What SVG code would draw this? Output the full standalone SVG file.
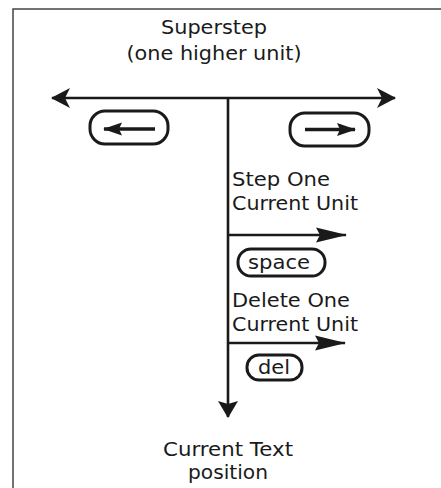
<svg xmlns="http://www.w3.org/2000/svg" width="441" height="488" viewBox="0 0 441 488">
<style>
.t{font-family:"DejaVu Sans","Liberation Sans",sans-serif;font-size:20px;fill:#1a1a1a}
.s{font-size:19px}
.k{fill:none;stroke:#1a1a1a;stroke-width:3}
.ln{stroke:#1a1a1a;stroke-width:2.6;fill:none}
.ka{stroke:#1a1a1a;stroke-width:3.5;fill:none}
.frame{stroke:#444;stroke-width:1.5;fill:none}
</style>
<defs>
<marker id="big" markerUnits="userSpaceOnUse" markerWidth="24" markerHeight="24" viewBox="-2 -12 24 24" refX="18" refY="0" orient="auto-start-reverse">
<path d="M0,-10 L19,0 L0,10 L5,0 z" fill="#1a1a1a"/>
</marker>
<marker id="long" markerUnits="userSpaceOnUse" markerWidth="34" markerHeight="20" viewBox="-2 -10 34 20" refX="30" refY="0" orient="auto">
<path d="M0,-7.5 L31,0 L0,7.5 L4,0 z" fill="#1a1a1a"/>
</marker>
<marker id="down" markerUnits="userSpaceOnUse" markerWidth="22" markerHeight="26" viewBox="-2 -12 22 24" refX="16" refY="0" orient="auto">
<path d="M0,-10 L17,0 L0,10 L3,0 z" fill="#1a1a1a"/>
</marker>
<marker id="small" markerUnits="userSpaceOnUse" markerWidth="22" markerHeight="16" viewBox="-2 -8 22 16" refX="18" refY="0" orient="auto">
<path d="M0,-6.5 L19,0 L0,6.5 L3,0 z" fill="#1a1a1a"/>
</marker>
</defs>
<rect width="441" height="488" fill="#fff"/>
<path class="frame" d="M13,488 L13,9 L441,9"/>

<g id="title">
<text class="t" x="214" y="34" text-anchor="middle" textLength="106" lengthAdjust="spacingAndGlyphs">Superstep</text>
<text class="t" x="214" y="60" text-anchor="middle" textLength="175" lengthAdjust="spacingAndGlyphs">(one higher unit)</text>
</g>

<g id="connectors">
<line class="ln" x1="52" y1="98" x2="395" y2="98" marker-start="url(#big)" marker-end="url(#big)"/>
<line class="ln" x1="228" y1="98" x2="228" y2="417" marker-end="url(#down)"/>
<line class="ln" x1="228" y1="235" x2="346" y2="235" marker-end="url(#long)"/>
<line class="ln" x1="228" y1="343" x2="345" y2="343" marker-end="url(#long)"/>
</g>

<g id="key-left">
<rect class="k" x="90" y="111" width="78" height="33" rx="15"/>
<line class="ka" x1="155" y1="129" x2="104" y2="129" marker-end="url(#small)"/>
</g>

<g id="key-right">
<rect class="k" x="290" y="113" width="79" height="33" rx="15"/>
<line class="ka" x1="305" y1="129.5" x2="355" y2="129.5" marker-end="url(#small)"/>
</g>

<g id="step-label">
<text class="t" x="232" y="186" textLength="98" lengthAdjust="spacingAndGlyphs">Step One</text>
<text class="t" x="232" y="210" textLength="126" lengthAdjust="spacingAndGlyphs">Current Unit</text>
</g>

<g id="key-space">
<rect class="k" x="238" y="249" width="87" height="27" rx="13"/>
<text class="t" x="248" y="269" textLength="62" lengthAdjust="spacingAndGlyphs">space</text>
</g>

<g id="delete-label">
<text class="t" x="232" y="307" textLength="118" lengthAdjust="spacingAndGlyphs">Delete One</text>
<text class="t" x="232" y="331" textLength="126" lengthAdjust="spacingAndGlyphs">Current Unit</text>
</g>

<g id="key-del">
<rect class="k" x="247" y="355" width="55" height="25" rx="12"/>
<text class="t" x="258" y="374" textLength="32" lengthAdjust="spacingAndGlyphs">del</text>
</g>

<g id="current-position">
<text class="t s" x="228" y="456" text-anchor="middle" textLength="130" lengthAdjust="spacingAndGlyphs">Current Text</text>
<text class="t s" x="228" y="479" text-anchor="middle" textLength="80" lengthAdjust="spacingAndGlyphs">position</text>
</g>
</svg>
